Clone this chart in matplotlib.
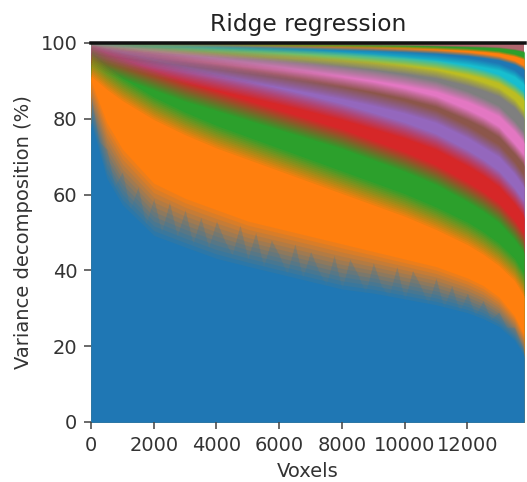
import numpy as np
import matplotlib
matplotlib.use("Agg")
import matplotlib.pyplot as plt

# --- data ---
# jagged top of the first component (blue), every 250 voxels
blue_x = list(range(0, 13751, 250)) + [13800]
blue_top = [86, 74, 72, 62, 66, 56, 62, 52, 59, 50,
            58, 49, 56, 47, 54, 46, 53, 48, 44, 52,
            43, 50, 41, 48, 44, 39, 47, 38, 45, 40,
            36, 44, 35, 43, 39, 34, 42, 36, 33, 41,
            32, 40, 36, 31, 38, 30, 36, 29, 34, 28,
            32, 27, 29, 25, 25, 20, 18]

layer_x = [0, 500, 1000, 2000, 3000, 4000, 5000, 6000, 7000, 8000, 9000,
           10000, 11000, 12000, 12500, 13000, 13500, 13800]
# range over which the blue component fades into orange
blue_lo = [78, 63, 56, 48, 45, 42, 40, 38, 36, 34, 33, 31.5, 30, 28, 26.5, 24.5, 21, 17]
blue_hi = [90, 79, 72, 63, 59, 56, 53, 51, 49, 47, 45, 43, 41, 38, 36, 33, 28, 23]
# cumulative tops of the other components
orange_top = [94, 90.5, 87.5, 82.5, 78.5, 75, 72, 69, 66, 63, 60, 57, 53.5, 49.5, 47, 44, 40, 36]
green_top = [96.5, 94.5, 93, 90, 87, 84.5, 82, 79.5, 77, 74.5, 71.5, 68.5, 65, 60.5, 58, 55, 50.5, 47]
red_top = [97.5, 96.3, 95.2, 93.2, 91.3, 89.5, 87.7, 85.8, 83.8, 81.7, 79.3, 76.8, 73.8, 69.5, 67, 64, 59.5, 56]
purple_top = [98.2, 97.3, 96.6, 95.3, 94, 92.7, 91.3, 89.9, 88.4, 86.8, 85, 83, 80.5, 76.5, 74, 71.5, 67, 63.5]
brown_top = [98.6, 97.9, 97.4, 96.4, 95.4, 94.4, 93.3, 92.2, 91, 89.7, 88.3, 86.6, 84.5, 81, 79, 76.5, 72, 69]
pink_top = [99, 98.5, 98.1, 97.4, 96.7, 96, 95.2, 94.4, 93.5, 92.5, 91.4, 90.1, 88.5, 85.8, 84, 82, 78, 75]
gray_top = [99.3, 99, 98.7, 98.2, 97.7, 97.2, 96.7, 96.1, 95.5, 94.8, 94, 93, 91.8, 89.8, 88.5, 87, 84, 81]
olive_top = [99.5, 99.25, 99.05, 98.75, 98.45, 98.1, 97.75, 97.4, 97, 96.5, 95.9, 95.2, 94.3, 92.8, 91.8, 90.5, 88, 86]
cyan_top = [99.7, 99.5, 99.35, 99.15, 98.95, 98.75, 98.5, 98.25, 98, 97.7, 97.3, 96.8, 96.2, 95.2, 94.5, 93.7, 92, 90]
blue2_top = [99.8, 99.65, 99.55, 99.45, 99.35, 99.25, 99.1, 98.95, 98.8, 98.6, 98.4, 98.1, 97.7, 97.1, 96.6, 96, 94.8, 93.5]
orange2_top = [99.9, 99.8, 99.75, 99.7, 99.65, 99.6, 99.5, 99.4, 99.3, 99.2, 99.05, 98.9, 98.65, 98.3, 98, 97.6, 96.8, 96]
green2_top = [99.95, 99.9, 99.88, 99.85, 99.82, 99.78, 99.74, 99.7, 99.65, 99.6, 99.53, 99.45, 99.3, 99.1, 99, 98.8, 98.3, 97.8]
total_top = [100] * len(layer_x)

layers = [
    ("#2ca02c", green2_top), ("#ff7f0e", orange2_top), ("#1f77b4", blue2_top),
    ("#17becf", cyan_top), ("#bcbd22", olive_top), ("#7f7f7f", gray_top),
    ("#e377c2", pink_top), ("#8c564b", brown_top), ("#9467bd", purple_top),
    ("#d62728", red_top), ("#2ca02c", green_top), ("#ff7f0e", orange_top),
]
widths = [0.5, 0.8, 1.2, 2.0, 2.5, 2.5, 3.0, 3.0, 3.5, 4.5, 5.5, 6.5]

DPI = 140
fig = plt.figure(figsize=(527 / DPI, 482 / DPI), dpi=DPI)
ax = fig.add_axes([0.1727, 0.1245, 0.8243, 0.7863])

X = np.array(layer_x, dtype=float)
N = 12


def soft_fill(lo, hi, color):
    """Fill from 0 with solid colour up to `lo`, fading out linearly to `hi`."""
    lo = np.asarray(lo, dtype=float)
    hi = np.asarray(hi, dtype=float)
    ax.fill_between(X, 0, lo, color=color, lw=0)
    for m in range(1, N + 1):
        lev = lo + (hi - lo) * (N - m + 1) / N
        ax.fill_between(X, 0, lev, color=color, lw=0, alpha=1.0 / (N - m + 1))


ax.fill_between(X, 0, total_top, color="#b0666e", lw=0)
for (col, top), w in zip(layers, widths):
    t = np.array(top, dtype=float)
    ww = np.minimum(w, np.maximum(100.0 - t, 0) * 2 + 0.4)
    soft_fill(t - ww / 2, t + ww / 2, col)

soft_fill(blue_lo, blue_hi, "#1f77b4")
ax.fill_between(blue_x, 0, blue_top, color="#1f77b4", lw=0, alpha=0.22)

ax.set_xlim(0, 13850)
ax.set_ylim(0, 100)
ax.set_xticks([0, 2000, 4000, 6000, 8000, 10000, 12000])
ax.set_yticks([0, 20, 40, 60, 80, 100])
ax.tick_params(labelsize=10, color="#444444", labelcolor="#333333")
for s in ["left", "right", "bottom"]:
    ax.spines[s].set_visible(False)
ax.spines["top"].set_linewidth(1.8)
ax.spines["top"].set_color("#111111")
ax.spines["top"].set_zorder(5)

ax.set_title("Ridge regression", fontsize=12, color="#222222")
ax.set_xlabel("Voxels", fontsize=10, color="#333333")
ax.set_ylabel("Variance decomposition (%)", fontsize=10, color="#333333")

fig.savefig("out.png", dpi=DPI)
